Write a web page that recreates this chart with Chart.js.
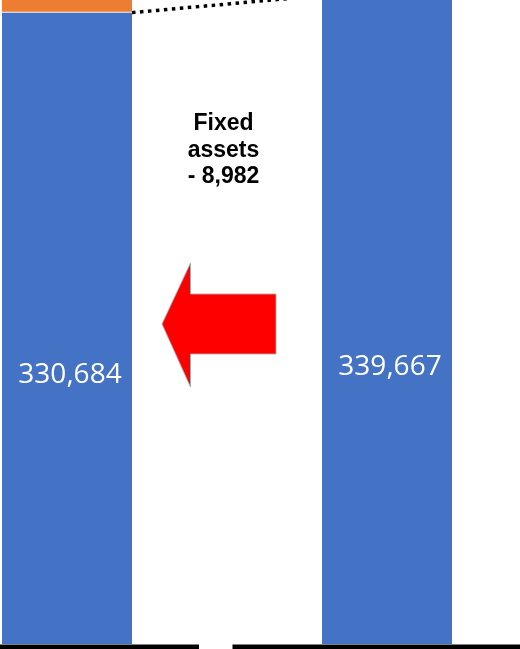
<!DOCTYPE html>
<html>
<head>
<meta charset="utf-8">
<script src="https://cdn.jsdelivr.net/npm/chart.js@4"></script>
<style>
  html, body { margin: 0; padding: 0; background: #ffffff; overflow: hidden; }
  #wrap { position: relative; width: 520px; height: 649px; overflow: hidden; }
  #chart { position: absolute; left: -13px; top: 0; }
</style>
</head>
<body>
<div id="wrap"><canvas id="chart" width="533" height="649"></canvas></div>
<script>
// Waterfall columns: opening position, movement, closing position
const categories = ['Previous', 'Fixed assets', 'Current'];
const baseValues = [330684, null, 339667];
const fixedAssetValues = [8982, null, null];
const movementLines = ['Fixed', 'assets', '- 8,982'];
const valueLabels = ['330,684', '', '339,667'];

const BLUE = '#4472C4';
const ORANGE = '#ED7D31';

const decorPlugin = {
  id: 'decor',
  afterDatasetsDraw(chart) {
    const ctx = chart.ctx;
    const area = chart.chartArea;
    const xScale = chart.scales.x;
    const bars = chart.getDatasetMeta(0).data;
    const left = bars[0];
    const right = bars[2];

    ctx.save();

    // dotted connector from the opening bar to the closing bar
    ctx.beginPath();
    ctx.setLineDash([3.5, 4.5]);
    ctx.lineWidth = 3.5;
    ctx.strokeStyle = '#000000';
    ctx.moveTo(left.x + left.width / 2, left.y);
    ctx.lineTo(right.x - right.width / 2, right.y);
    ctx.stroke();
    ctx.setLineDash([]);

    // value labels inside the blue columns, a little below their middle
    ctx.fillStyle = '#ffffff';
    ctx.font = '28px "Open Sans"';
    ctx.textAlign = 'center';
    ctx.textBaseline = 'alphabetic';
    [0, 2].forEach(i => {
      const bar = bars[i];
      const yLab = (bar.y + bar.base) / 2 + 55;
      ctx.fillText(valueLabels[i], bar.x + 3, yLab);
    });

    // movement caption
    const midX = xScale.getPixelForValue(1) - 3.5;
    ctx.fillStyle = '#000000';
    ctx.font = 'bold 23px "Liberation Sans", Arial, sans-serif';
    movementLines.forEach((t, k) => {
      ctx.fillText(t, midX, area.top + 130 + k * 26.5);
    });

    // red arrow pointing to the opening column
    const ax = xScale.getPixelForValue(1);
    const ay = area.top + 324;
    ctx.beginPath();
    ctx.moveTo(ax - 65, ay);
    ctx.lineTo(ax - 36.5, ay - 61);
    ctx.lineTo(ax - 36.5, ay - 30);
    ctx.lineTo(ax + 49, ay - 30);
    ctx.lineTo(ax + 49, ay + 30);
    ctx.lineTo(ax - 36.5, ay + 30);
    ctx.lineTo(ax - 36.5, ay + 63);
    ctx.closePath();
    ctx.fillStyle = '#FF0000';
    ctx.fill();
    ctx.lineWidth = 1;
    ctx.strokeStyle = 'rgba(170,170,170,0.9)';
    ctx.stroke();

    // baseline segments with a break under the movement column
    ctx.fillStyle = '#000000';
    ctx.fillRect(0, area.bottom + 0.5, 212, 6);
    ctx.fillRect(245.5, area.bottom + 0.5, chart.width - 245.5, 6);

    ctx.restore();
  }
};

new Chart(document.getElementById('chart'), {
  type: 'bar',
  data: {
    labels: categories,
    datasets: [
      {
        label: 'Net position',
        data: baseValues,
        backgroundColor: BLUE,
        borderWidth: 0,
        stack: 'total'
      },
      {
        label: 'Fixed assets',
        data: fixedAssetValues,
        backgroundColor: ORANGE,
        borderColor: 'rgba(255,235,220,0.9)',
        borderWidth: { top: 0, left: 0, right: 0, bottom: 1 },
        borderSkipped: false,
        stack: 'total'
      }
    ]
  },
  options: {
    responsive: false,
    animation: false,
    devicePixelRatio: 1,
    layout: { padding: { left: 0, right: 53, top: 0, bottom: 5 } },
    datasets: { bar: { barPercentage: 1, categoryPercentage: 0.8125 } },
    plugins: { legend: { display: false }, tooltip: { enabled: false } },
    scales: {
      x: { display: false, stacked: true },
      y: { display: false, stacked: true, min: 0, max: 337300 }
    }
  },
  plugins: [decorPlugin]
});
</script>
</body>
</html>
